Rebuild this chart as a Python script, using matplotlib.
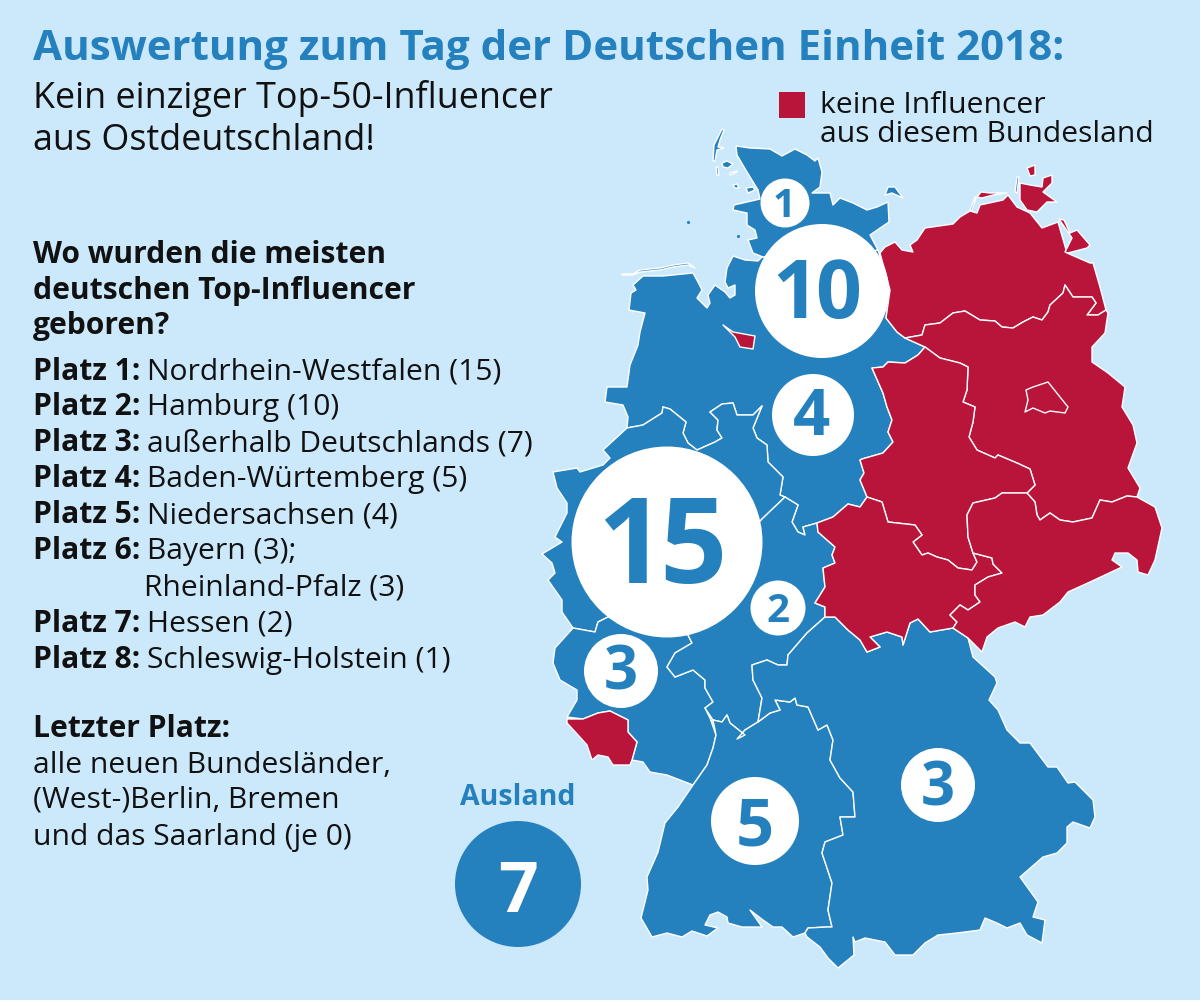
import matplotlib
matplotlib.use("Agg")
import matplotlib.pyplot as plt
from matplotlib.patches import Circle, Polygon, Rectangle

BG = "#CCE8FB"
BLUE = "#2581BE"
RED = "#B9153B"
INK = "#111111"

plt.rcParams["font.family"] = ["Open Sans", "DejaVu Sans"]

# state outlines in pixels
SCHLESWIG_HOLSTEIN = [(736, 146), (750, 148), (770, 149), (782, 156), (795, 149), (807, 155), (815, 161), (818, 158),
                      (822, 172), (820, 187), (812, 193), (830, 193), (833, 205), (840, 198), (853, 203), (867, 210),
                      (877, 207), (888, 202), (889, 222), (870, 235), (878, 250), (826, 262), (763, 257), (753, 253),
                      (748, 240), (757, 238), (755, 230), (747, 225), (747, 213), (733, 210), (734, 205), (760, 199),
                      (758, 190), (747, 172), (737, 155)]
FEHMARN = [(885, 195), (888, 187), (895, 187), (903, 198), (892, 193)]
SYLT = [(722, 129), (724, 130), (720, 140), (718, 147), (724, 148), (717, 150), (715, 161), (713, 161), (714, 145), (718, 137)]
FOEHR = [(722, 163), (727, 161), (733, 164), (728, 168), (723, 167)]
AMRUM = [(716, 167), (718, 167), (719, 175), (717, 175)]
HOOGE = [(730, 173), (737, 171), (737, 172), (730, 175)]
NORDSTRAND = [(733, 185), (737, 184), (739, 188), (735, 188)]
PELLWORM = [(746, 188), (753, 187), (755, 190), (748, 193)]
FRISIAN = [(622, 274), (633, 274), (640, 270), (660, 268), (673, 265), (688, 263), (695, 268), (688, 265), (673, 267),
           (660, 270), (640, 272), (633, 275), (622, 275)]
HIDDENSEE = [(1015, 192), (1017, 177), (1019, 177), (1017, 193)]
FISCHLAND = [(970, 210), (975, 197), (976, 198), (972, 210)]

NDS_NRW = [(627, 428), (643, 425), (662, 413), (663, 407), (670, 409), (686, 422), (683, 433), (688, 443), (697, 450),
           (715, 442), (722, 438), (717, 430), (718, 420), (710, 412), (722, 404), (733, 403), (737, 415), (753, 415),
           (762, 406), (753, 428), (757, 438), (767, 445), (768, 462), (783, 477), (780, 495), (785, 497)]
NDS_HESSE = [(798, 505), (792, 522), (798, 532), (805, 535), (803, 527), (817, 523)]
NDS_EAST = [(833, 517), (848, 504), (860, 507), (867, 497), (865, 492), (860, 480), (864, 473), (860, 460), (862, 459),
            (883, 453), (893, 442), (888, 432), (892, 420), (887, 407), (883, 393), (872, 368), (883, 367), (888, 362),
            (905, 363), (918, 355), (925, 347), (905, 338), (897, 332), (886, 318), (890, 290), (878, 250)]
NIEDERSACHSEN = ([(826, 262), (762, 257), (758, 261), (745, 260), (733, 256), (727, 268), (725, 282), (728, 288), (735, 285),
                  (735, 295), (730, 298), (725, 292), (715, 285), (708, 295), (710, 303), (707, 308), (697, 298), (702, 290),
                  (698, 282), (693, 273), (663, 276), (643, 276), (633, 285), (636, 290), (631, 293), (629, 310), (645, 313),
                  (640, 332), (638, 345), (630, 365), (627, 387), (607, 387), (605, 402), (623, 405), (628, 417)]
                 + NDS_NRW + NDS_HESSE + NDS_EAST)
BREMEN = [(723, 325), (733, 332), (755, 336), (753, 349), (740, 347), (735, 337)]

NRW_SOUTH = [(608, 617), (598, 622), (595, 632), (573, 628)]
NRW = (NDS_NRW + [(762, 519), (690, 600), (688, 635)] + NRW_SOUTH
       + [(562, 612), (562, 600), (548, 580), (555, 573), (552, 563), (542, 554), (562, 542), (555, 537), (567, 513),
          (567, 503), (557, 488), (553, 472), (577, 468), (580, 472), (603, 465), (610, 458), (603, 450)])

RLP_HESSE = [(688, 635), (692, 643), (675, 653), (667, 667), (675, 677), (693, 670), (705, 680), (705, 688), (713, 702), (705, 708)]
RLP = (NRW_SOUTH
       + [(555, 648), (553, 663), (560, 680), (577, 690), (577, 700), (567, 717), (583, 719), (598, 713), (610, 711),
          (628, 720), (628, 732), (637, 742), (632, 760), (643, 762), (650, 772), (667, 775), (693, 785), (707, 765),
          (713, 748), (716, 735), (710, 718)]
       + RLP_HESSE[::-1])
SAARLAND = [(567, 719), (583, 719), (598, 713), (610, 711), (628, 720), (628, 732), (637, 742), (632, 760), (630, 765),
            (613, 765), (608, 757), (598, 755), (592, 760), (587, 745), (578, 735), (567, 723)]
HESSE_SOUTH = [(713, 720), (722, 722), (727, 715), (730, 723), (745, 735), (737, 739), (745, 730), (758, 722)]
HESSE_EAST = [(762, 698), (753, 680), (752, 665), (767, 660), (778, 665), (787, 665), (788, 655), (807, 633), (825, 617)]
THUER_WEST = [(817, 523), (818, 532), (835, 547), (832, 555), (835, 563), (823, 568), (825, 587), (815, 603), (825, 607), (825, 617)]
HESSEN = (RLP_HESSE + HESSE_SOUTH + HESSE_EAST + THUER_WEST[::-1] + NDS_HESSE[::-1] + [(785, 497), (762, 519), (690, 600)])
BW_EAST = [(808, 707), (818, 730), (827, 725), (833, 740), (830, 760), (840, 778), (853, 792), (855, 817), (840, 817),
           (843, 835), (825, 842), (822, 853), (832, 883), (828, 910), (832, 927), (827, 927), (808, 928), (805, 933)]
BW_NORTH = [(797, 705), (795, 698), (790, 702), (775, 700), (780, 710), (770, 713), (758, 722)]
BADEN_WUERTTEMBERG = ([(693, 785), (678, 807), (665, 823), (658, 852), (647, 877), (648, 890), (641, 918), (652, 937),
                       (667, 933), (682, 937), (692, 931), (707, 936), (718, 928), (705, 925), (710, 915), (718, 912),
                       (727, 917), (728, 923), (742, 927), (762, 927), (750, 910), (763, 920), (773, 927), (782, 927),
                       (793, 937)]
                      + BW_EAST[::-1] + BW_NORTH + HESSE_SOUTH[::-1] + [(716, 735), (713, 748), (707, 765)])
BAYERN = ([(825, 617), (835, 617), (848, 630), (860, 640), (867, 652), (880, 647), (870, 637), (887, 632), (902, 637),
           (903, 645), (910, 623), (918, 619), (930, 632), (953, 628), (968, 638), (973, 657), (995, 677), (997, 683),
           (989, 700), (998, 710), (1007, 730), (1020, 743), (1030, 743), (1048, 767), (1057, 767), (1068, 783),
           (1075, 782), (1093, 800), (1095, 817), (1090, 828), (1073, 822), (1067, 827), (1067, 843), (1057, 853),
           (1043, 857), (1020, 877), (1038, 902), (1033, 917), (1045, 920), (1042, 943), (1027, 935), (1020, 923),
           (1007, 928), (997, 923), (985, 918), (980, 930), (957, 933), (938, 935), (925, 943), (913, 955), (895, 955),
           (885, 942), (865, 938), (855, 942), (853, 937), (854, 955), (838, 968), (828, 958), (820, 947), (807, 937)]
          + BW_EAST[::-1] + BW_NORTH + HESSE_EAST)

MV_SOUTH = [(1106, 310), (1098, 315), (1087, 315), (1096, 303), (1092, 297), (1073, 297), (1065, 285), (1063, 293),
            (1050, 305), (1048, 312), (1042, 320), (1033, 317), (1023, 322), (1013, 328), (1002, 327), (995, 321),
            (980, 320), (965, 311), (953, 313), (940, 323), (925, 325), (922, 335), (905, 338)]
MECKLENBURG = ([(880, 253), (885, 247), (895, 242), (902, 250), (913, 252), (910, 245), (917, 240), (925, 228), (953, 224),
                (960, 217), (970, 211), (977, 213), (980, 205), (1003, 200), (1008, 195), (1017, 207), (1030, 213),
                (1042, 228), (1058, 222), (1067, 253), (1090, 263), (1093, 263), (1100, 287)]
               + MV_SOUTH + [(897, 332), (886, 318), (890, 290)])
RUEGEN = [(1020, 200), (1020, 183), (1030, 185), (1042, 187), (1043, 178), (1052, 175), (1052, 183), (1043, 192),
          (1057, 202), (1047, 202), (1037, 212), (1027, 210)]
WITTOW = [(1027, 168), (1035, 165), (1035, 175), (1030, 176)]
DARSS = [(977, 197), (981, 192), (990, 193), (1007, 193), (993, 195), (982, 198)]
USEDOM = [(1059, 219), (1064, 220), (1070, 233), (1077, 230), (1090, 245), (1087, 248), (1068, 253), (1065, 252), (1072, 238)]
SA_EAST = [(925, 347), (940, 358), (960, 363), (968, 367), (967, 390), (963, 402), (975, 407), (973, 422), (969, 437),
           (977, 450), (995, 458), (998, 455), (1017, 463), (1030, 469), (1035, 485), (1027, 493)]
SA_SOUTH = [(1002, 493), (995, 498), (973, 503), (967, 515), (968, 537), (973, 553)]
THUER_NORTH = [(977, 562), (972, 570), (958, 568), (948, 560), (937, 557), (928, 553), (922, 555), (913, 542), (922, 535),
               (915, 525), (888, 522), (882, 502), (867, 497)]
THUER_EAST = [(992, 558), (993, 564), (1002, 573), (988, 577), (975, 585), (975, 595), (980, 602), (968, 610), (960, 605),
              (950, 615), (957, 622), (953, 628)]
BRANDENBURG = ([(1106, 310), (1108, 313), (1105, 333), (1092, 347), (1092, 362), (1108, 373), (1125, 387), (1122, 407),
                (1133, 425), (1137, 443), (1128, 468), (1140, 488), (1137, 497), (1127, 496), (1112, 502), (1100, 500),
                (1092, 518), (1073, 522), (1060, 520), (1050, 513), (1040, 520), (1037, 515), (1035, 502)]
               + SA_EAST[::-1] + MV_SOUTH[::-1])
SACHSEN_ANHALT = (SA_EAST + SA_SOUTH + THUER_NORTH
                  + [(865, 492), (860, 480), (864, 473), (860, 460), (862, 459), (883, 453), (893, 442), (888, 432),
                     (892, 420), (887, 407), (883, 393), (872, 368), (883, 367), (888, 362), (905, 363), (918, 355)])
THUERINGEN = ([(817, 523), (833, 517), (848, 504), (860, 507)] + THUER_NORTH[::-1] + [(973, 553)] + THUER_EAST
              + [(930, 632), (918, 619), (910, 623), (903, 645), (902, 637), (887, 632), (870, 637), (880, 647), (867, 652),
                 (860, 640), (848, 630), (835, 617)]
              + THUER_WEST[::-1])
SACHSEN = ([(973, 503), (995, 498), (1002, 493), (1027, 493), (1035, 502), (1037, 515), (1040, 520), (1050, 513), (1060, 520),
            (1073, 522), (1092, 518), (1100, 500), (1112, 502), (1127, 496), (1137, 497), (1155, 507), (1162, 528),
            (1155, 560), (1148, 575), (1138, 572), (1137, 560), (1128, 553), (1115, 553), (1112, 560), (1122, 567),
            (1090, 582), (1068, 592), (1060, 602), (1043, 615), (1030, 617), (1025, 627), (1015, 622), (998, 628),
            (987, 637), (982, 652), (968, 638)]
           + THUER_EAST[::-1] + [(973, 553), (968, 537), (967, 515)])
BERLIN = [(1026, 390), (1033, 387), (1048, 382), (1068, 407), (1065, 413), (1050, 411), (1045, 413), (1033, 408), (1025, 412),
          (1028, 400)]

WEST_STATES = [SCHLESWIG_HOLSTEIN, FEHMARN, SYLT, FOEHR, AMRUM, HOOGE, NORDSTRAND, PELLWORM, FRISIAN, HIDDENSEE, FISCHLAND,
               NIEDERSACHSEN, NRW, RLP, HESSEN, BADEN_WUERTTEMBERG, BAYERN]
ZERO_STATES = [BREMEN, SAARLAND, MECKLENBURG, RUEGEN, WITTOW, DARSS, USEDOM, BRANDENBURG, SACHSEN_ANHALT, THUERINGEN, SACHSEN,
               BERLIN]
ISLETS_X = [688, 738]
ISLETS_Y = [222, 236]

# bubbles, then one x per digit with its baseline and font size
BUBBLE_X = [785, 822, 813, 667, 778, 621, 938, 755]
BUBBLE_Y = [203, 291, 415, 542, 608, 671, 785, 821]
BUBBLE_R = [24.5, 67, 41, 95.5, 27.5, 37, 37, 44]
BUBBLE_DIGITS = ["1", "10", "4", "15", "2", "3", "3", "5"]
DIGIT_X = [[784], [795, 838], [812], [631, 693], [778], [621], [938], [755]]
DIGIT_BASE = [217, 318, 435, 583, 622, 690, 805, 846]
DIGIT_PT = [29, 58, 47, 85, 29, 43, 43, 48]

RANK_HEADS = ["Platz 1:", "Platz 2:", "Platz 3:", "Platz 4:", "Platz 5:", "Platz 6:", None, "Platz 7:", "Platz 8:"]
RANK_TEXT = ["Nordrhein-Westfalen (15)", "Hamburg (10)", "außerhalb Deutschlands (7)", "Baden-Würtemberg (5)",
             "Niedersachsen (4)", "Bayern (3);", "Rheinland-Pfalz (3)", "Hessen (2)", "Schleswig-Holstein (1)"]
RANK_BASE = [380, 415, 451, 487, 523, 559, 596, 632, 668]
BODY_PT = 21.6

fig = plt.figure(figsize=(12, 10), dpi=100, facecolor=BG)
ax = fig.add_axes([0, 0, 1, 1])
ax.set_xlim(0, 1200)
ax.set_ylim(1000, 0)
ax.axis("off")

for outline in WEST_STATES:
    ax.add_patch(Polygon(outline, closed=True, facecolor=BLUE, edgecolor="white", linewidth=1.0, joinstyle="round"))
for outline in ZERO_STATES:
    ax.add_patch(Polygon(outline, closed=True, facecolor=RED, edgecolor="white", linewidth=1.0, joinstyle="round"))
ax.scatter(ISLETS_X, ISLETS_Y, s=5, color=BLUE, linewidths=0)

for x, y, r, digits, digit_x, base, pt in zip(BUBBLE_X, BUBBLE_Y, BUBBLE_R, BUBBLE_DIGITS, DIGIT_X, DIGIT_BASE, DIGIT_PT):
    ax.add_patch(Circle((x, y), r, facecolor="white", edgecolor="none", zorder=3))
    for digit, dx in zip(digits, digit_x):
        ax.text(dx, base, digit, fontsize=pt, fontweight="bold", color=BLUE, ha="center", va="baseline", zorder=4)

ax.add_patch(Circle((518, 884), 63, facecolor=BLUE, edgecolor="none"))
ax.text(518, 912, "7", fontsize=50, fontweight="bold", color="white", ha="center", va="baseline")
ax.text(518, 805, "Ausland", fontsize=20.5, fontweight="bold", color=BLUE, ha="center", va="baseline")

ax.text(33, 60, "Auswertung zum Tag der Deutschen Einheit 2018:", fontsize=30.3, fontweight="bold", color=BLUE, va="baseline")
ax.text(33, 108, "Kein einziger Top-50-Influencer", fontsize=25.85, color=INK, va="baseline")
ax.text(33, 150, "aus Ostdeutschland!", fontsize=25.85, color=INK, va="baseline")

ax.add_patch(Rectangle((779, 92), 26, 26, facecolor=RED, edgecolor="none"))
ax.text(820, 113, "keine Influencer", fontsize=BODY_PT, color=INK, va="baseline")
ax.text(820, 142, "aus diesem Bundesland", fontsize=BODY_PT, color=INK, va="baseline")

for y, line in zip([263, 299, 334], ["Wo wurden die meisten", "deutschen Top-Influencer", "geboren?"]):
    ax.text(33, y, line, fontsize=BODY_PT, fontweight="bold", color=INK, va="baseline")

for head, line, y in zip(RANK_HEADS, RANK_TEXT, RANK_BASE):
    if head is None:
        ax.text(144, y, line, fontsize=BODY_PT, color=INK, va="baseline")
    else:
        ax.text(33, y, head, fontsize=BODY_PT, fontweight="bold", color=INK, va="baseline")
        ax.text(147, y, line, fontsize=BODY_PT, color=INK, va="baseline")

ax.text(33, 737, "Letzter Platz:", fontsize=BODY_PT, fontweight="bold", color=INK, va="baseline")
for y, line in zip([773, 808, 845], ["alle neuen Bundesländer,", "(West-)Berlin, Bremen", "und das Saarland (je 0)"]):
    ax.text(33, y, line, fontsize=BODY_PT, color=INK, va="baseline")

fig.savefig("out.png", dpi=100, facecolor=BG)
